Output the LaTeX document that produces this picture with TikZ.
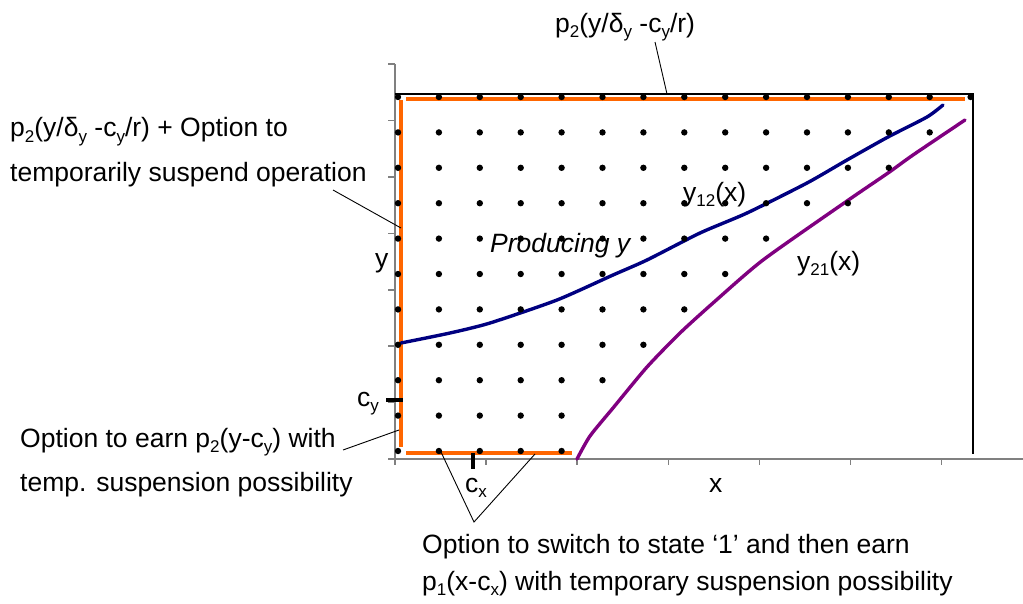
\documentclass[tikz,border=0pt]{standalone}
\usepackage{fontspec}
\setmainfont{Liberation Sans}
\newcommand\sbx[1]{\raisebox{-0.22em}{\fontsize{17}{17}\selectfont #1}}
\definecolor{orng}{RGB}{255,102,0}
\definecolor{navyc}{RGB}{0,0,128}
\definecolor{purp}{RGB}{128,0,128}
\definecolor{axgray}{RGB}{128,128,128}
\begin{document}
\begin{tikzpicture}[x=1pt,y=-1pt,
 lbl/.style={inner sep=0pt, anchor=base west, font=\fontsize{26.5}{30}\selectfont},
 axisline/.style={draw=axgray, line width=1.6pt},
 frameline/.style={draw=black, line width=2.2pt},
 orangeline/.style={draw=orng, line width=4.8pt},
 leader/.style={draw=black, line width=0.9pt},
 curveline/.style={line width=3.4pt, line join=round, line cap=round},
 markline/.style={draw=black, line width=3.5pt},
 ]
\useasboundingbox (0,0) rectangle (1023,603);

% axes
\draw[axisline] (388,459) -- (1023,459);
\draw[axisline] (395,64) -- (395,465);
\foreach \t in {64,120.4,176.9,233.3,289.7,346.1,402.6}
  \draw[axisline] (388,\t) -- (395,\t);
\foreach \t in {486.1,577.2,668.3,759.4,850.5,941.6}
  \draw[axisline] (\t,459) -- (\t,465);

% frame
\draw[frameline] (395,94) -- (973,94) -- (973,454);

% orange boundaries
\draw[orangeline] (401,100) -- (401,447);
\draw[orangeline] (406,99) -- (965,99);
\draw[orangeline] (406,453) -- (572,453);

% curves
\draw[curveline, draw=navyc] plot[smooth, tension=0.4] coordinates {(401,343) (450,333) (490,323) (557,300) (613,275) (647,260) (700,233) (747,213) (807,183) (847,160) (888,137) (927,117) (943,105)};
\draw[curveline, draw=purp] plot[smooth, tension=0.4] coordinates {(577,459) (590,436) (613,408) (647,367) (680,333) (713,303) (763,260) (847,201) (888,173) (913,155) (965,120)};

% c_y and c_x marks
\draw[markline] (386,400) -- (403,400);
\draw[markline] (473,453) -- (473,469);

% dots
\foreach \r/\n in {97/15,132.4/14,167.8/13,203.2/12,238.6/10,274/9,309.4/8,344.8/7,380.2/6,415.6/5,451/5}
  \foreach \i in {1,...,\n}
    \fill[black] ({398+40.9*(\i-1)},\r) circle[radius=3.2pt];

% labels
\node[lbl] (toplab) at (555,32) {p\sbx{2}(y/δ\sbx{y} -c\sbx{y}/r)};
\node[lbl] (l1a) at (10,136.5) {p\sbx{2}(y/δ\sbx{y} -c\sbx{y}/r) + Option to};
\node[lbl] (l1b) at (10,181.5) {temporarily suspend operation};
\node[lbl] (l2a) at (20,447) {Option to earn p\sbx{2}(y-c\sbx{y}) with};
\node[lbl] (l2b) at (20,491.5) {temp. suspension possibility};
\node[lbl] (l3a) at (422,553) {Option to switch to state ‘1’ and then earn};
\node[lbl] (l3b) at (422,590) {p\sbx{1}(x-c\sbx{x}) with temporary suspension possibility};
\node[lbl] (ylab) at (375,267) {y};
\node[lbl] (cylab) at (357,406) {c\sbx{y}};
\node[lbl] (cxlab) at (465,492) {c\sbx{x}};
\node[lbl] (xlab) at (709,492) {x};
\node[lbl] (y12lab) at (683,201) {y\sbx{12}(x)};
\node[lbl] (y21lab) at (797,270) {y\sbx{21}(x)};
\node[lbl, font=\fontsize{26.5}{30}\selectfont\itshape] (prodlab) at (490,252) {Producing y};

% leader lines
\coordinate (t1) at (655,42);
\coordinate (t2) at (667,94);
\draw[leader] (t1) -- (t2);
\coordinate (u1) at (333,190);
\coordinate (u2) at (401,228);
\draw[leader] (u1) -- (u2);
\coordinate (w1) at (343,450);
\coordinate (w2) at (399,430);
\draw[leader] (w1) -- (w2);
\coordinate (b1) at (441,452);
\coordinate (b0) at (474,522);
\coordinate (b2) at (535,454);
\draw[leader] (b1) -- (b0) -- (b2);
\end{tikzpicture}
\end{document}
